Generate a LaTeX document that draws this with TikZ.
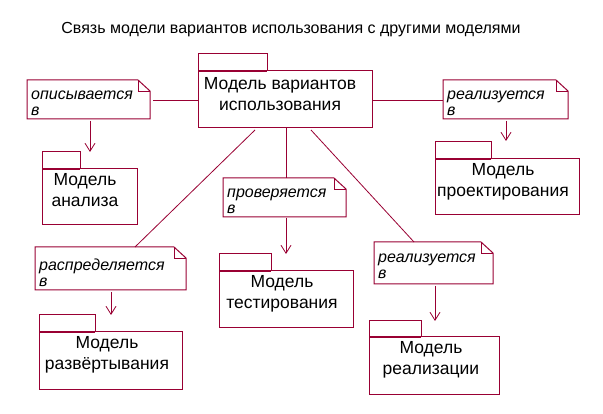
\documentclass[tikz,border=0pt]{standalone}
\usepackage{fontspec}
\setmainfont{Liberation Sans}
\usetikzlibrary{arrows.meta}
\definecolor{umlred}{HTML}{990033}
\tikzset{
  box/.style={draw=umlred, line width=1pt, inner sep=0pt, outer sep=0pt, anchor=north west},
  tabbox/.style={draw=umlred, line width=1pt, inner sep=0pt, outer sep=0pt, anchor=south west},
  notearea/.style={inner sep=0pt, outer sep=0pt, anchor=north west},
  boxtext/.style={inner sep=0pt, anchor=north, align=center, font=\fontsize{17.5}{21}\selectfont},
  notetext/.style={inner sep=0pt, anchor=north west, align=left, font=\fontsize{16}{16}\selectfont\itshape},
  conn/.style={draw=umlred, line width=0.8pt},
  arr/.style={conn, -{Straight Barb[length=8pt,width=10pt,line width=0.8pt]}}
}
\newcommand{\notebox}[5]{% name, x1, y1, x2, y2
  \node[notearea, minimum width=#4-#2, minimum height=#5-#3] (#1) at (#2,#3) {};
  \draw[umlred, line width=1pt] (#1.north west) -- ([xshift=-12pt]#1.north east)
    -- ([yshift=-11pt]#1.north east) -- (#1.south east) -- (#1.south west) -- cycle;
  \draw[umlred, line width=0.8pt] ([xshift=-12pt]#1.north east) -- ([xshift=-12pt,yshift=-11pt]#1.north east)
    -- ([yshift=-11pt]#1.north east);
}
\begin{document}
\begin{tikzpicture}[x=1pt,y=-1pt]
\useasboundingbox (0,0) rectangle (603,414);
\fill[white] (0,0) rectangle (603,414);

\node[inner sep=0pt, font=\fontsize{16}{18}\selectfont] (title) at (291,30)
  {Связь модели вариантов использования с другими моделями};

% packages
\node[box, minimum width=174pt, minimum height=57pt] (uc) at (198,71) {};
\node[tabbox, minimum width=69pt, minimum height=17pt] (uctab) at (uc.north west) {};
\draw[umlred, line width=2pt] (uctab.south west) -- (uctab.south east);
\node[boxtext] (uct) at (280,77) {Модель вариантов\\использования};

\node[box, minimum width=95pt, minimum height=56pt] (an) at (42,169) {};
\node[tabbox, minimum width=38pt, minimum height=17pt] (antab) at (an.north west) {};
\draw[umlred, line width=2pt] (antab.south west) -- (antab.south east);
\node[boxtext] (ant) at (85,173) {Модель\\анализа};

\node[box, minimum width=144pt, minimum height=56pt] (de) at (435,159) {};
\node[tabbox, minimum width=56pt, minimum height=17pt] (detab) at (de.north west) {};
\draw[umlred, line width=2pt] (detab.south west) -- (detab.south east);
\node[boxtext] (det) at (503,163) {Модель\\проектирования};

\node[box, minimum width=134pt, minimum height=57pt] (te) at (219,271) {};
\node[tabbox, minimum width=52pt, minimum height=17pt] (tetab) at (te.north west) {};
\draw[umlred, line width=2pt] (tetab.south west) -- (tetab.south east);
\node[boxtext] (tet) at (282,275) {Модель\\тестирования};

\node[box, minimum width=143pt, minimum height=57pt] (dp) at (39,332) {};
\node[tabbox, minimum width=56pt, minimum height=17pt] (dptab) at (dp.north west) {};
\draw[umlred, line width=2pt] (dptab.south west) -- (dptab.south east);
\node[boxtext] (dpt) at (107,336) {Модель\\развёртывания};

\node[box, minimum width=130pt, minimum height=57pt] (re) at (369,337) {};
\node[tabbox, minimum width=52pt, minimum height=16pt] (retab) at (re.north west) {};
\draw[umlred, line width=2pt] (retab.south west) -- (retab.south east);
\node[boxtext] (ret) at (431,341) {Модель\\реализации};

% notes
\notebox{n1}{27}{80}{150}{119}
\node[notetext] (n1t) at (31,91) {описывается\\в};
\notebox{n2}{443}{80}{568}{119}
\node[notetext] (n2t) at (447,91) {реализуется\\в};
\notebox{n3}{223}{178}{346}{217}
\node[notetext] (n3t) at (227,189) {проверяется\\в};
\notebox{n4}{35}{247}{186}{290}
\node[notetext] (n4t) at (39,259) {распределяется\\в};
\notebox{n5}{374}{242}{493}{284}
\node[notetext] (n5t) at (378,254) {реализуется\\в};

% connectors
\coordinate (ucL) at (uc.west |- 0,100);
\coordinate (ucR) at (uc.east |- 0,100);
\draw[conn] ([xshift=3pt]n1.east |- ucL) -- (ucL);
\draw[conn] (ucR) -- (n2.west |- ucR);
\draw[conn] (uc.south -| 286,0) -- (n3.north -| 286,0);
\draw[conn] ([yshift=-2pt]uc.south -| 255,0) -- (n4.north -| 135,0);
\draw[conn] ([yshift=-2pt]uc.south -| 311,0) -- (n5.north -| 414,0);

\draw[arr] ([yshift=-2pt]n1.south -| 90,0) -- (antab.north -| 90,0);
\draw[arr] ([yshift=-2pt]n2.south -| 506,0) -- ([yshift=1pt]detab.north -| 506,0);
\draw[arr] ([yshift=-1pt]n3.south -| 286,0) -- (tetab.north -| 286,0);
\draw[arr] ([yshift=-2pt]n4.south -| 111,0) -- (dptab.north -| 111,0);
\draw[arr] ([yshift=-2pt]n5.south -| 435,0) -- (retab.north -| 435,0);
\end{tikzpicture}
\end{document}
